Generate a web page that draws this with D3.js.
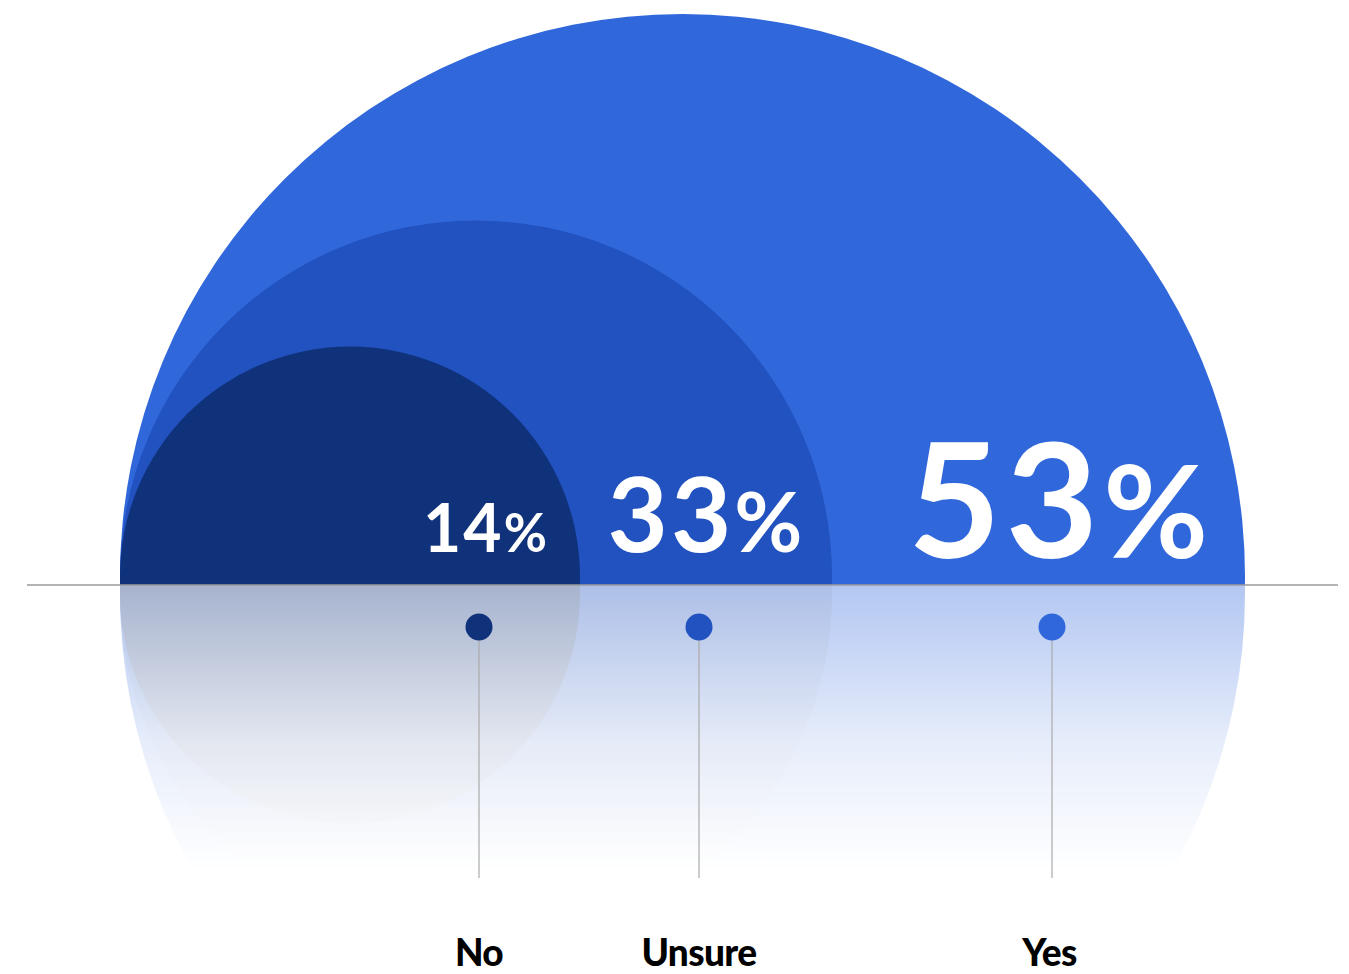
<!DOCTYPE html>
<html>
<head>
<meta charset="utf-8">
<script src="https://cdn.jsdelivr.net/npm/d3@7"></script>
<style>
  html, body { margin: 0; padding: 0; background: #ffffff; }
  svg { display: block; }
</style>
</head>
<body>
<svg id="chart" width="1349" height="974"></svg>
<script>
// Survey answers and their shares (%)
const categories = ["No", "Unsure", "Yes"];
const shares = [14, 33, 53];
const valueLabels = ["14%", "33%", "53%"];
const colors = ["#10327b", "#2152bf", "#3067db"];

const W = 1349, H = 974;
const baseY = 585;        // horizon line
const leftX = 120;        // all domes share this left edge
const lift = 8.5;         // circle centres sit slightly above the horizon

const svg = d3.select("#chart");

// Dome radius from the share
const rScale = d3.scaleLinear().domain([0, 14, 33, 53]).range([0, 230, 356, 562.5]);
// Size of the percentage label from the share
const fontScale = d3.scaleLinear().domain([14, 33, 53]).range([66, 104, 160]);
// Where each answer's marker and label sit along the horizon
const anchorX = d3.scaleOrdinal().domain(categories).range([479, 699, 1052]);

const data = categories.map((c, i) => ({
  cat: c, value: shares[i], label: valueLabels[i], color: colors[i]
}));
// draw largest first so smaller domes sit on top
const drawOrder = data.slice().sort((a, b) => b.value - a.value);

const defs = svg.append("defs");
defs.append("clipPath").attr("id", "above")
  .append("rect").attr("x", 0).attr("y", 0).attr("width", W).attr("height", baseY);
defs.append("clipPath").attr("id", "below")
  .append("rect").attr("x", 0).attr("y", baseY).attr("width", W).attr("height", H - baseY);

// fading reflection under the horizon
const fade = defs.append("linearGradient").attr("id", "fade")
  .attr("gradientUnits", "userSpaceOnUse")
  .attr("x1", 0).attr("x2", 0).attr("y1", baseY).attr("y2", 870);
fade.append("stop").attr("offset", 0).attr("stop-color", "#fff").attr("stop-opacity", 0.37);
fade.append("stop").attr("offset", 0.55).attr("stop-color", "#fff").attr("stop-opacity", 0.12);
fade.append("stop").attr("offset", 1).attr("stop-color", "#fff").attr("stop-opacity", 0);
defs.append("mask").attr("id", "reflMask").attr("maskUnits", "userSpaceOnUse")
  .attr("x", 0).attr("y", 0).attr("width", W).attr("height", H)
  .append("rect").attr("x", 0).attr("y", baseY).attr("width", W).attr("height", H - baseY)
  .attr("fill", "url(#fade)");

// reflection: domes mirrored about the horizon
const refl = svg.append("g").attr("clip-path", "url(#below)").attr("mask", "url(#reflMask)");
refl.selectAll("circle").data(drawOrder).join("circle")
  .attr("cx", d => leftX + rScale(d.value))
  .attr("cy", baseY + lift)
  .attr("r", d => rScale(d.value))
  .attr("fill", d => d.color);

// domes
const domes = svg.append("g").attr("clip-path", "url(#above)");
domes.selectAll("circle").data(drawOrder).join("circle")
  .attr("cx", d => leftX + rScale(d.value))
  .attr("cy", baseY - lift)
  .attr("r", d => rScale(d.value))
  .attr("fill", d => d.color);

// horizon
svg.append("line")
  .attr("x1", 27).attr("x2", 1338).attr("y1", baseY).attr("y2", baseY)
  .attr("stroke", "#9a9a9a").attr("stroke-width", 1.5);

// percentage labels: digits plus a smaller percent sign
const pct = svg.append("g").selectAll("text").data(data).join("text")
  .attr("x", d => anchorX(d.cat) + 6)
  .attr("y", d => d.value === 53 ? 558 : 552)
  .attr("text-anchor", "middle")
  .attr("fill", "#ffffff")
  .attr("font-family", "Lato, 'Open Sans', sans-serif")
  .attr("font-weight", 700)
  .attr("font-size", d => fontScale(d.value));
pct.append("tspan")
  .attr("letter-spacing", d => fontScale(d.value) * 0.03)
  .text(d => d.label.replace("%", ""));
pct.append("tspan")
  .attr("font-size", d => fontScale(d.value) * 0.8)
  .text("%");

// leader lines and markers
const pins = svg.append("g");
pins.selectAll("line").data(data).join("line")
  .attr("x1", d => anchorX(d.cat)).attr("x2", d => anchorX(d.cat))
  .attr("y1", 627).attr("y2", 878)
  .attr("stroke", "#aaaaaa").attr("stroke-width", 1.2);
pins.selectAll("circle").data(data).join("circle")
  .attr("cx", d => anchorX(d.cat)).attr("cy", 627).attr("r", 13.5)
  .attr("fill", d => d.color);

// category names
svg.append("g").selectAll("text").data(data).join("text")
  .attr("x", d => anchorX(d.cat) - (d.cat === "Yes" ? 2.5 : 0))
  .attr("y", 966)
  .attr("text-anchor", "middle")
  .attr("fill", "#000000")
  .attr("font-family", "Lato, 'Open Sans', sans-serif")
  .attr("font-weight", 900)
  .attr("font-size", 37)
  .attr("letter-spacing", -0.6)
  .text(d => d.cat);
</script>
</body>
</html>
